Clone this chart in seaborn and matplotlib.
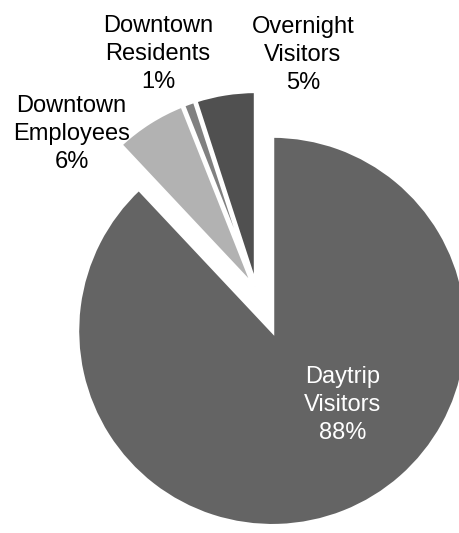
import matplotlib
matplotlib.use("Agg")
import matplotlib.pyplot as plt
import seaborn as sns
import numpy as np

# ---- data ----
categories = ["Daytrip\nVisitors", "Downtown\nEmployees", "Downtown\nResidents", "Overnight\nVisitors"]
values = [88, 6, 1, 5]
pct_labels = ["88%", "6%", "1%", "5%"]

# ---- style ----
colors = ["#646464", "#b2b2b2", "#808080", "#505050"]
explode = [0.22, 0.025, 0.025, 0.025]
text_colors = ["white", "black", "black", "black"]
# label centres (data units, pie radius = 1)
label_pos = [(0.44, -0.585), (-0.948, 0.805), (-0.505, 1.215), (0.238, 1.21)]

sns.set_theme(style="white")
plt.rcParams["font.family"] = ["Liberation Sans", "DejaVu Sans"]

fig = plt.figure(figsize=(4.59, 5.33), dpi=100)
ax = fig.add_axes([0, 0, 1, 1])

wedges, _ = ax.pie(
    values,
    colors=colors,
    explode=explode,
    startangle=90,
    counterclock=False,
    radius=1.0,
    wedgeprops=dict(edgecolor="white", linewidth=2.8),
)

for cat, pct, (x, y), tc in zip(categories, pct_labels, label_pos, text_colors):
    ax.text(x, y, f"{cat}\n{pct}", ha="center", va="center", fontsize=17,
            color=tc, linespacing=1.33)

cx, cy = 256.5, 291
ax.set_xlim(-cx / 195, (459 - cx) / 195)
ax.set_ylim(-(533 - cy) / 195, cy / 195)
ax.set_aspect("equal")
ax.axis("off")

fig.savefig("out.png", dpi=100, facecolor="white")
